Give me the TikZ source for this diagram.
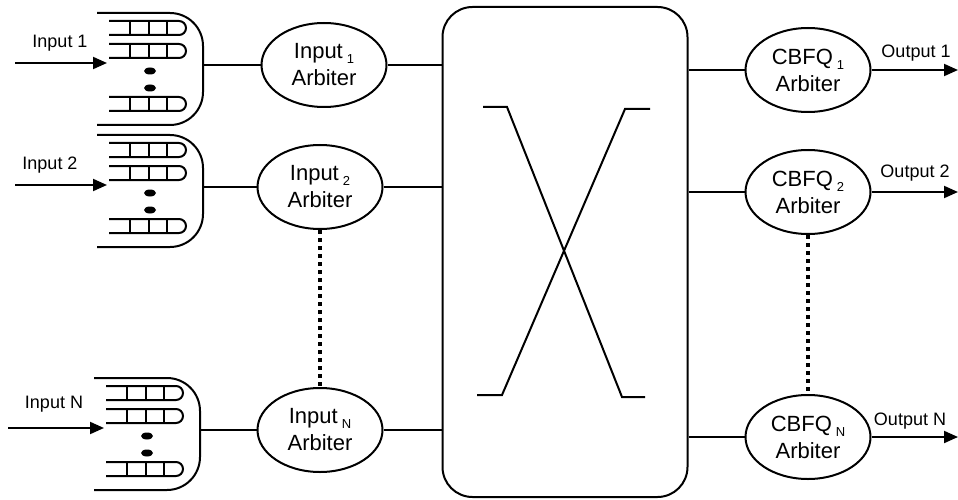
\documentclass[tikz,border=0pt]{standalone}
\usepackage{fontspec}
\setmainfont{Liberation Sans}
\usetikzlibrary{arrows.meta,shapes.geometric}
\newcommand\arbsub[1]{\hspace{4pt}\raisebox{-5pt}{\fontsize{13}{13}\selectfont #1}}
\tikzset{
  line/.style={line width=2pt},
  arb/.style={draw, line width=2pt, ellipse, minimum width=125pt, minimum height=84pt,
              inner sep=0pt, align=center, font=\fontsize{22}{27}\selectfont},
  lbl/.style={font=\fontsize{18}{18}\selectfont, inner sep=0pt},
  arr/.style={line, -{Triangle[length=14pt,width=12pt]}},
  dotline/.style={line width=3.5pt, dash pattern=on 4pt off 4pt},
  qrow/.style={line width=2pt, rounded corners=7pt},
  queue/.pic={
    \draw[line, rounded corners=33pt] (0,0) -- (106,0) -- (106,112) -- (0,112);
    \foreach \yy in {15,38,91}{
      \draw[qrow] (12,\yy-7) -- (89,\yy-7) -- (89,\yy+7) -- (12,\yy+7);
      \foreach \xx in {33,52,70}{\draw[line width=2pt] (\xx,\yy-7) -- (\xx,\yy+7);}
    }
    \fill (53,58) ellipse [x radius=6pt, y radius=3.5pt];
    \fill (53,75) ellipse [x radius=6pt, y radius=3.5pt];
    \coordinate (-out) at (106,52);
    \coordinate (-in) at (10,50);
  }
}
\begin{document}
\begin{tikzpicture}[x=1pt,y=-1pt]
\useasboundingbox (0,0) rectangle (958,500);
% queues
\pic (q1) at (97,13) {queue};
\pic (q2) at (97,135) {queue};
\pic (qN) at (94,378) {queue};
% input arrows
\coordinate (s1) at (15,63);
\coordinate (s2) at (15,185);
\coordinate (sN) at (8,428);
\draw[arr] (s1) -- (q1-in);
\draw[arr] (s2) -- (q2-in);
\draw[arr] (sN) -- (qN-in);
\node[lbl] (l1) at (60,43) {Input 1};
\node[lbl] (l2) at (50,165) {Input 2};
\node[lbl] (lN) at (54,404) {Input N};
% input arbiters
\node[arb] (in1) at (324,65) {Input\arbsub{1}\\Arbiter};
\node[arb] (in2) at (320,187) {Input\arbsub{2}\\Arbiter};
\node[arb] (inN) at (320,430) {Input\arbsub{N}\\Arbiter};
\draw[line] (q1-out) -- (in1.west);
\draw[line] (q2-out) -- (in2.west);
\draw[line] (qN-out) -- (inN.west);
\draw[dotline] (in2.south) -- (inN.north);
% switch
\node[draw, line, rounded corners=30pt, minimum width=245pt, minimum height=490pt] (sw) at (565,252) {};
\draw[line] (in1.east) -- (in1.east -| sw.west);
\draw[line] (in2.east) -- (in2.east -| sw.west);
\draw[line] (inN.east) -- (inN.east -| sw.west);
\draw[line] (483,107) -- (507,107) -- (622,397) -- (645,397);
\draw[line] (650,109) -- (625,109) -- (502,395) -- (477,395);
% output arbiters
\node[arb] (cb1) at (808,70) {CBFQ\arbsub{1}\\Arbiter};
\node[arb] (cb2) at (808,192) {CBFQ\arbsub{2}\\Arbiter};
\node[arb] (cbN) at (808,437) {CBFQ\arbsub{N}\\Arbiter};
\draw[line] (cb1.west -| sw.east) -- (cb1.west);
\draw[line] (cb2.west -| sw.east) -- (cb2.west);
\draw[line] (cbN.west -| sw.east) -- (cbN.west);
\draw[dotline] (cb2.south) -- (cbN.north);
\coordinate (o1) at (958,70);
\coordinate (o2) at (958,192);
\coordinate (oN) at (958,437);
\draw[arr] (cb1.east) -- (o1);
\draw[arr] (cb2.east) -- (o2);
\draw[arr] (cbN.east) -- (oN);
\node[lbl] (ol1) at (916,53) {Output 1};
\node[lbl] (ol2) at (915,173) {Output 2};
\node[lbl] (olN) at (910,421) {Output N};
\end{tikzpicture}
\end{document}
